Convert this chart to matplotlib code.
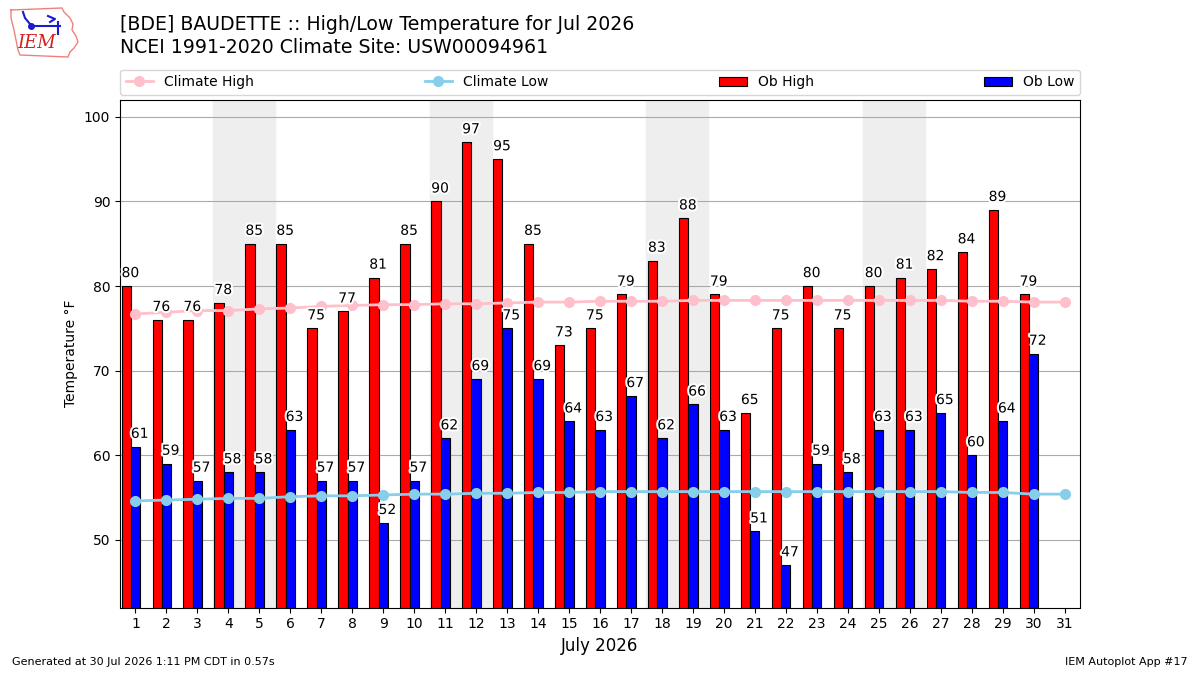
import matplotlib
matplotlib.use("Agg")
import matplotlib.pyplot as plt
import matplotlib.patheffects as pe
from matplotlib.lines import Line2D
import numpy as np

# Observed and climate values for July 2026
days = list(range(1, 32))
ob_high = [80, 76, 76, 78, 85, 85, 75, 77, 81, 85, 90, 97, 95, 85, 73, 75,
           79, 83, 88, 79, 65, 75, 80, 75, 80, 81, 82, 84, 89, 79]
ob_low = [61, 59, 57, 58, 58, 63, 57, 57, 52, 57, 62, 69, 75, 69, 64, 63,
          67, 62, 66, 63, 51, 47, 59, 58, 63, 63, 65, 60, 64, 72]
clim_high = [76.7, 76.9, 77.1, 77.1, 77.3, 77.4, 77.6, 77.7, 77.8, 77.8, 77.9,
             77.9, 78.0, 78.1, 78.1, 78.2, 78.2, 78.2, 78.3, 78.3, 78.3, 78.3,
             78.3, 78.3, 78.3, 78.3, 78.3, 78.2, 78.2, 78.1, 78.1]
clim_low = [54.6, 54.7, 54.8, 54.9, 54.9, 55.1, 55.2, 55.2, 55.3, 55.4, 55.4,
            55.5, 55.5, 55.6, 55.6, 55.7, 55.7, 55.7, 55.7, 55.7, 55.7, 55.7,
            55.7, 55.7, 55.7, 55.7, 55.7, 55.6, 55.6, 55.4, 55.4]
weekends = [4, 5, 11, 12, 18, 19, 25, 26]

obs_days = np.array(days[:len(ob_high)])

fig = plt.figure(figsize=(12, 6.75), dpi=100)
ax = fig.add_axes([0.1, 0.1, 0.8, 0.752])

for d in weekends:
    ax.axvspan(d - 0.5, d + 0.5, color="#eeeeee", zorder=0)

ax.bar(obs_days - 0.3, ob_high, width=0.3, fc="r", ec="k", lw=0.8,
       label="Ob High", zorder=2)
ax.bar(obs_days, ob_low, width=0.3, fc="b", ec="k", lw=0.8,
       label="Ob Low", zorder=2)

ax.plot(days, clim_high, color="pink", marker="o", ms=7, lw=2,
        label="Climate High", zorder=3)
ax.plot(days, clim_low, color="skyblue", marker="o", ms=7, lw=2,
        label="Climate Low", zorder=3)

# Value labels above each bar, white halo
halo = [pe.withStroke(linewidth=3, foreground="white")]
for x, v in zip(obs_days, ob_high):
    ax.text(x - 0.45, v + 0.7, str(v), ha="left", va="bottom", fontsize=10,
            zorder=4, path_effects=halo)
for x, v in zip(obs_days, ob_low):
    ax.text(x - 0.15, v + 0.7, str(v), ha="left", va="bottom", fontsize=10,
            zorder=4, path_effects=halo)

ax.set_xlim(0.5, 31.5)
ax.set_ylim(42, 102)
ax.set_xticks(days)
ax.set_yticks(range(50, 101, 10))
ax.grid(axis="y", color="#aaaaaa", lw=0.8)
ax.set_axisbelow(True)
ax.set_xlabel("July 2026", fontsize=12)
ax.set_ylabel("Temperature °F")

handles, labels = ax.get_legend_handles_labels()
order = [labels.index(n) for n in ["Climate High", "Climate Low", "Ob High", "Ob Low"]]
ax.legend([handles[i] for i in order], [labels[i] for i in order],
          loc="lower left", bbox_to_anchor=(0, 1.01, 1, 0.05), mode="expand",
          ncol=4, borderaxespad=0, fontsize=10)

fig.text(0.1, 0.964, "[BDE] BAUDETTE :: High/Low Temperature for Jul 2026",
         fontsize=13.6, va="center")
fig.text(0.1, 0.929, "NCEI 1991-2020 Climate Site: USW00094961",
         fontsize=13.6, va="center")

# rough stand-in for the IEM logo (state outline + mark + text)
outline_px = [(11, 10), (62, 8), (64, 12), (70, 18), (73, 24), (72, 30),
              (76, 36), (78, 42), (74, 48), (70, 52), (68, 57), (20, 55),
              (18, 50), (16, 40), (14, 30), (11, 18), (11, 10)]
fig.add_artist(Line2D([p[0] / 1200 for p in outline_px],
                      [1 - p[1] / 675 for p in outline_px],
                      color="#f08080", lw=1, transform=fig.transFigure))
mark_px = [[(23, 12), (25, 18), (30, 24)], [(30, 26), (60, 26)],
           [(48, 16), (55, 19), (50, 22)], [(58, 22), (58, 34)]]
for seg in mark_px:
    fig.add_artist(Line2D([p[0] / 1200 for p in seg], [1 - p[1] / 675 for p in seg],
                          color="#1a1ad0", lw=1.5, transform=fig.transFigure))
fig.add_artist(Line2D([31 / 1200], [1 - 26 / 675], marker="o", ms=4,
                      color="#1a1ad0", transform=fig.transFigure))
fig.text(37 / 1200, 1 - 43 / 675, "IEM", color="#d42020", fontsize=13,
         style="italic", family="DejaVu Serif", va="center", ha="center")

fig.text(0.01, 0.015, "Generated at 30 Jul 2026 1:11 PM CDT in 0.57s", fontsize=8)
fig.text(0.99, 0.015, "IEM Autoplot App #17", fontsize=8, ha="right")

fig.savefig("out.png", dpi=100)
